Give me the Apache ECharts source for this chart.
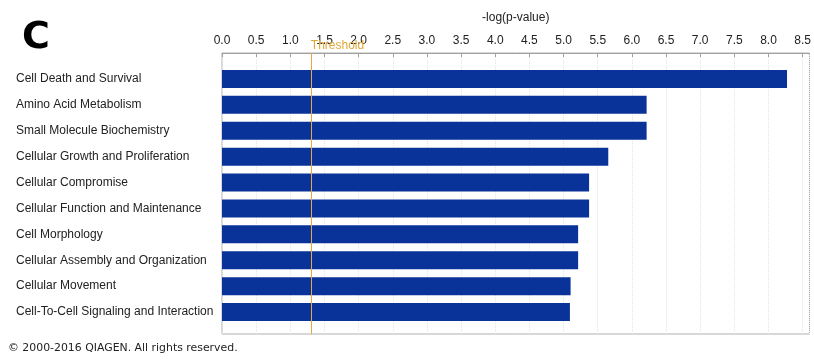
<!DOCTYPE html>
<html><head><meta charset="utf-8">
<script src="https://cdn.jsdelivr.net/npm/echarts@6/dist/echarts.min.js"></script>
<style>html,body{margin:0;padding:0;background:#fff}#c{width:814px;height:361px}</style>
</head><body><div id="c"></div>
<script>
const categories = [
  "Cell Death and Survival",
  "Amino Acid Metabolism",
  "Small Molecule Biochemistry",
  "Cellular Growth and Proliferation",
  "Cellular Compromise",
  "Cellular Function and Maintenance",
  "Cell Morphology",
  "Cellular Assembly and Organization",
  "Cellular Movement",
  "Cell-To-Cell Signaling and Interaction"
];
const values = [8.25, 6.20, 6.20, 5.64, 5.36, 5.36, 5.20, 5.20, 5.09, 5.08];
const threshold = 1.3;
const axisName = "-log(p-value)";
const panelLetter = "C";
const copyright = "\u00A9 2000-2016 QIAGEN. All rights reserved.";

const chart = echarts.init(document.getElementById('c'), null, {renderer: 'canvas'});
const fontFam = "'Liberation Sans', Arial, sans-serif";
chart.setOption({
  animation: false,
  title: {
    text: panelLetter, left: 17, top: 14,
    textStyle: {fontFamily: "'DejaVu Sans', sans-serif", fontWeight: 'bold', fontSize: 38, color: '#000'}
  },
  graphic: [{
    type: 'text', left: 8, top: 343,
    style: {text: copyright, font: "10.9px 'DejaVu Sans', sans-serif", fill: '#222'}
  }],
  grid: [
    {left: 222, right: 3, top: 53, bottom: 27, show: true, borderColor: '#b0b0b0', borderWidth: 1, containLabel: false},
    {left: 222, right: 3, top: 66, height: 259, containLabel: false}
  ],
  xAxis: [
    {
      gridIndex: 0, type: 'value', position: 'top', min: 0, max: 8.6, interval: 0.5,
      name: axisName, nameLocation: 'middle', nameGap: 29,
      nameTextStyle: {fontFamily: fontFam, fontSize: 12, color: '#222'},
      axisLine: {show: true, onZero: false, lineStyle: {color: '#a0a0a0'}},
      axisTick: {show: true, inside: true, length: 4, lineStyle: {color: '#a0a0a0'}},
      axisLabel: {margin: 6, fontFamily: fontFam, fontSize: 12, color: '#222', showMaxLabel: false,
        formatter: v => v.toFixed(1)},
      splitLine: {show: true, lineStyle: {color: '#e4e4e4', type: 'dotted', width: 1}}
    },
    {gridIndex: 1, type: 'value', min: 0, max: 8.6, show: false}
  ],
  yAxis: [
    {gridIndex: 0, type: 'value', min: 0, max: 1, show: false},
    {
      gridIndex: 1, type: 'category', data: categories, inverse: true,
      axisLine: {show: false}, axisTick: {show: false},
      axisLabel: {align: 'left', margin: 206, fontFamily: fontFam, fontSize: 12, color: '#222'}
    }
  ],
  series: [
    {
      type: 'bar', xAxisIndex: 1, yAxisIndex: 1, data: values, barWidth: 18,
      itemStyle: {color: '#0a3399'}
    },
    {
      type: 'scatter', xAxisIndex: 0, yAxisIndex: 0, data: [], silent: true,
      markLine: {
        silent: true, symbol: 'none',
        lineStyle: {color: '#e8a840', type: 'solid', width: 1, opacity: 1},
        label: {show: true, position: 'end', formatter: 'Threshold', color: '#e0a838',
          fontFamily: fontFam, fontSize: 12, align: 'left', distance: 1},
        data: [{xAxis: threshold}]
      },
      z: 5
    }
  ]
});
</script></body></html>
